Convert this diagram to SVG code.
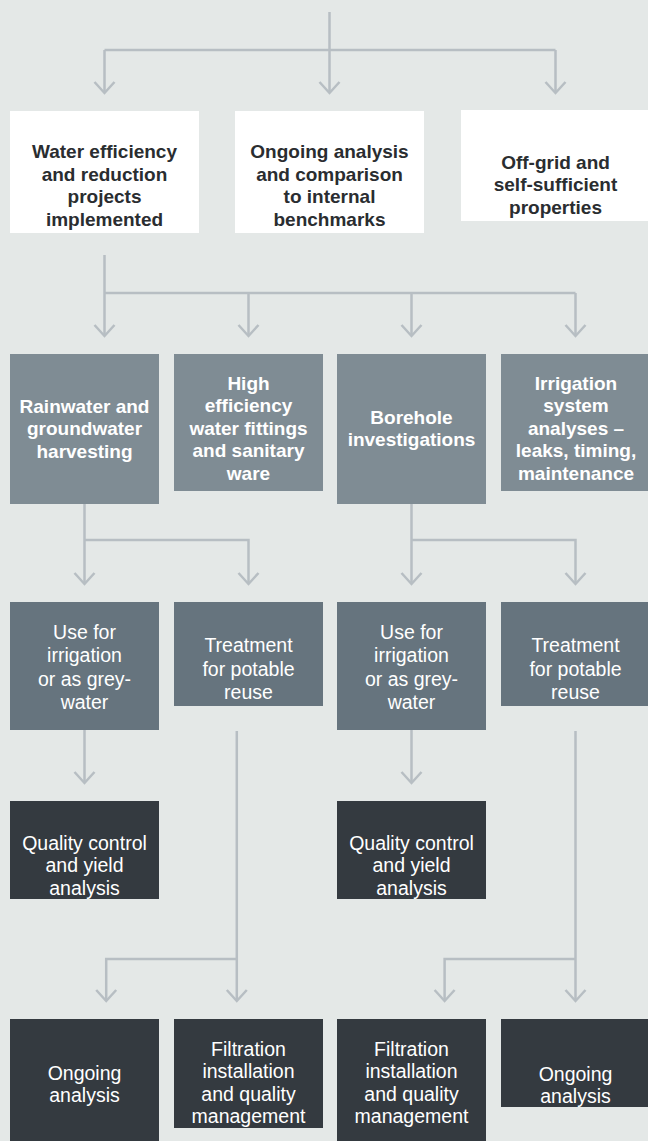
<svg xmlns="http://www.w3.org/2000/svg" width="648" height="1141" viewBox="0 0 648 1141">
<defs>
<style>
.bg{fill:#e4e8e7}
.w{fill:#ffffff}
.g1{fill:#7f8c94}
.g2{fill:#66747e}
.dk{fill:#343a40}
.tb{font-family:"Liberation Sans",Arial,sans-serif;font-weight:bold;font-size:19px;text-anchor:middle}
.tn{font-family:"Liberation Sans",Arial,sans-serif;font-size:19.5px;text-anchor:middle;fill:#ffffff}
.dark{fill:#2a2d30}
.light{fill:#ffffff}
.c{fill:none;stroke:#b7bec3;stroke-width:2.5}
</style>
<marker id="ah" viewBox="-13 -13 26 26" markerWidth="26" markerHeight="26" markerUnits="userSpaceOnUse" refX="0" refY="0" orient="auto">
<path d="M-11,-10 L0,0 L-11,10" fill="none" stroke="#b7bec3" stroke-width="2.5"/>
</marker>
</defs>
<rect class="bg" x="0" y="0" width="648" height="1141"/>

<g id="connectors">
<path class="c" d="M329.5,12 V50"/>
<path class="c" d="M104.5,50 H555.5"/>
<path class="c" d="M104.5,50 V93" marker-end="url(#ah)"/>
<path class="c" d="M329.5,50 V93" marker-end="url(#ah)"/>
<path class="c" d="M555.5,50 V93" marker-end="url(#ah)"/>

<path class="c" d="M104.5,255 V336" marker-end="url(#ah)"/>
<path class="c" d="M104.5,293 H575.5"/>
<path class="c" d="M248.5,293 V336" marker-end="url(#ah)"/>
<path class="c" d="M411.5,293 V336" marker-end="url(#ah)"/>
<path class="c" d="M575.5,293 V336" marker-end="url(#ah)"/>

<path class="c" d="M84.5,504 V584" marker-end="url(#ah)"/>
<path class="c" d="M84.5,540 H248.5 V584" marker-end="url(#ah)"/>
<path class="c" d="M411.5,504 V584" marker-end="url(#ah)"/>
<path class="c" d="M411.5,540 H575.5 V584" marker-end="url(#ah)"/>

<path class="c" d="M84.5,730 V783" marker-end="url(#ah)"/>
<path class="c" d="M411.5,730 V783" marker-end="url(#ah)"/>

<path class="c" d="M236.8,731 V1001" marker-end="url(#ah)"/>
<path class="c" d="M236.8,959 H106.2 V1001" marker-end="url(#ah)"/>
<path class="c" d="M575.5,731 V1001" marker-end="url(#ah)"/>
<path class="c" d="M575.5,959 H444.6 V1001" marker-end="url(#ah)"/>
</g>

<g id="n-water-efficiency">
<rect class="w" x="10" y="111" width="189" height="122"/>
<text class="tb dark"><tspan x="104.5" y="158">Water efficiency</tspan><tspan x="104.5" y="180.5">and reduction</tspan><tspan x="104.5" y="203">projects</tspan><tspan x="104.5" y="225.5">implemented</tspan></text>
</g>
<g id="n-ongoing-benchmarks">
<rect class="w" x="235" y="111" width="189" height="122"/>
<text class="tb dark"><tspan x="329.5" y="158">Ongoing analysis</tspan><tspan x="329.5" y="180.5">and comparison</tspan><tspan x="329.5" y="203">to internal</tspan><tspan x="329.5" y="225.5">benchmarks</tspan></text>
</g>
<g id="n-off-grid">
<rect class="w" x="461" y="110" width="189" height="111"/>
<text class="tb dark"><tspan x="555.5" y="168.5">Off-grid and</tspan><tspan x="555.5" y="191">self-sufficient</tspan><tspan x="555.5" y="213.5">properties</tspan></text>
</g>

<g id="n-rainwater">
<rect class="g1" x="10" y="354" width="149" height="150"/>
<text class="tb light"><tspan x="84.5" y="412.5">Rainwater and</tspan><tspan x="84.5" y="435">groundwater</tspan><tspan x="84.5" y="457.5">harvesting</tspan></text>
</g>
<g id="n-fittings">
<rect class="g1" x="174" y="354" width="149" height="137"/>
<text class="tb light"><tspan x="248.5" y="389.5">High</tspan><tspan x="248.5" y="412">efficiency</tspan><tspan x="248.5" y="434.5">water fittings</tspan><tspan x="248.5" y="457">and sanitary</tspan><tspan x="248.5" y="479.5">ware</tspan></text>
</g>
<g id="n-borehole">
<rect class="g1" x="337" y="354" width="149" height="150"/>
<text class="tb light"><tspan x="411.5" y="423.5">Borehole</tspan><tspan x="411.5" y="446">investigations</tspan></text>
</g>
<g id="n-irrigation-system">
<rect class="g1" x="501" y="354" width="149" height="137"/>
<text class="tb light"><tspan x="576" y="389.5">Irrigation</tspan><tspan x="576" y="412">system</tspan><tspan x="576" y="434.5">analyses –</tspan><tspan x="576" y="457">leaks, timing,</tspan><tspan x="576" y="479.5">maintenance</tspan></text>
</g>

<g id="n-use-1">
<rect class="g2" x="10" y="602" width="149" height="128"/>
<text class="tn"><tspan x="84.5" y="638.5">Use for</tspan><tspan x="84.5" y="662">irrigation</tspan><tspan x="84.5" y="685.5">or as grey-</tspan><tspan x="84.5" y="709">water</tspan></text>
</g>
<g id="n-treatment-1">
<rect class="g2" x="174" y="602" width="149" height="104"/>
<text class="tn"><tspan x="248.5" y="652">Treatment</tspan><tspan x="248.5" y="675.5">for potable</tspan><tspan x="248.5" y="699">reuse</tspan></text>
</g>
<g id="n-use-2">
<rect class="g2" x="337" y="602" width="149" height="128"/>
<text class="tn"><tspan x="411.5" y="638.5">Use for</tspan><tspan x="411.5" y="662">irrigation</tspan><tspan x="411.5" y="685.5">or as grey-</tspan><tspan x="411.5" y="709">water</tspan></text>
</g>
<g id="n-treatment-2">
<rect class="g2" x="501" y="602" width="149" height="104"/>
<text class="tn"><tspan x="575.5" y="652">Treatment</tspan><tspan x="575.5" y="675.5">for potable</tspan><tspan x="575.5" y="699">reuse</tspan></text>
</g>

<g id="n-quality-1">
<rect class="dk" x="10" y="801" width="149" height="98"/>
<text class="tn"><tspan x="84.5" y="849.5">Quality control</tspan><tspan x="84.5" y="872">and yield</tspan><tspan x="84.5" y="894.5">analysis</tspan></text>
</g>
<g id="n-quality-2">
<rect class="dk" x="337" y="801" width="149" height="98"/>
<text class="tn"><tspan x="411.5" y="849.5">Quality control</tspan><tspan x="411.5" y="872">and yield</tspan><tspan x="411.5" y="894.5">analysis</tspan></text>
</g>

<g id="n-ongoing-1">
<rect class="dk" x="10" y="1019" width="149" height="122"/>
<text class="tn"><tspan x="84.5" y="1080">Ongoing</tspan><tspan x="84.5" y="1102">analysis</tspan></text>
</g>
<g id="n-filtration-1">
<rect class="dk" x="174" y="1019" width="149" height="109"/>
<text class="tn"><tspan x="248.5" y="1055.5">Filtration</tspan><tspan x="248.5" y="1078">installation</tspan><tspan x="248.5" y="1100.5">and quality</tspan><tspan x="248.5" y="1123">management</tspan></text>
</g>
<g id="n-filtration-2">
<rect class="dk" x="337" y="1019" width="149" height="122"/>
<text class="tn"><tspan x="411.5" y="1055.5">Filtration</tspan><tspan x="411.5" y="1078">installation</tspan><tspan x="411.5" y="1100.5">and quality</tspan><tspan x="411.5" y="1123">management</tspan></text>
</g>
<g id="n-ongoing-2">
<rect class="dk" x="501" y="1019" width="149" height="88"/>
<text class="tn"><tspan x="575.5" y="1080.5">Ongoing</tspan><tspan x="575.5" y="1102.5">analysis</tspan></text>
</g>
</svg>
